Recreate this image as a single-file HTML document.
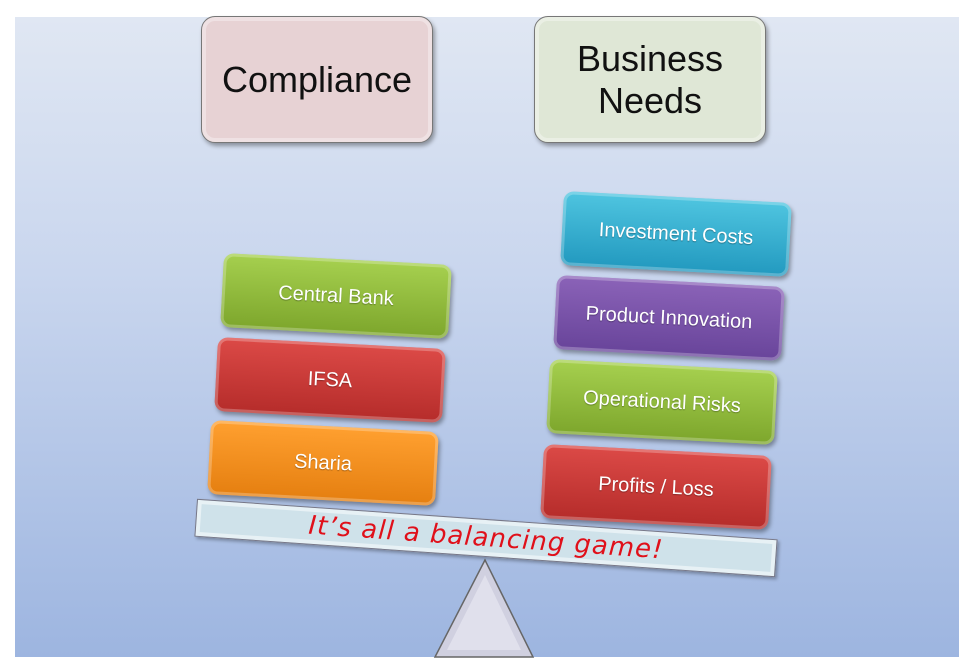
<!DOCTYPE html>
<html><head><style>
body{margin:0;width:973px;height:671px;background:#fff;position:relative;overflow:hidden;font-family:"Liberation Sans",sans-serif}
.bg{position:absolute;left:15px;top:17px;width:944px;height:640px;background:linear-gradient(#e0e7f3,#c9d6ee 40%,#9db5e0)}
.hb{position:absolute;border-radius:14px;border:1.5px solid #777;box-shadow:2px 3px 4px rgba(0,0,0,.35),inset 0 0 0 4px rgba(255,255,255,.35);display:flex;align-items:center;justify-content:center;text-align:center;font-size:36px;color:#111;line-height:42px}
.b{position:absolute;width:228px;height:74px;border-radius:10px;transform:rotate(3deg);color:#fff;font-size:20px;display:flex;align-items:center;justify-content:center;box-shadow:2px 3px 4px rgba(0,0,0,.35),inset 0 0 0 3px rgba(255,255,255,.25);text-shadow:0 1px 1px rgba(0,0,0,.3)}
</style></head><body>
<div class="bg"></div>
<div class="hb" style="left:201px;top:16px;width:230px;height:125px;background:#e7d2d4">Compliance</div>
<div class="hb" style="left:534px;top:16px;width:230px;height:125px;background:#dfe7d6">Business<br>Needs</div>

<div class="b" style="left:222px;top:259px;background:linear-gradient(#a6d04f,#7da62c)">Central Bank</div>
<div class="b" style="left:216px;top:343px;background:linear-gradient(#dc4a47,#b52c2a)">IFSA</div>
<div class="b" style="left:209px;top:426px;background:linear-gradient(#ffa030,#e57f10)">Sharia</div>

<div class="b" style="left:562px;top:197px;background:linear-gradient(#4fc5e0,#2299bf)">Investment Costs</div>
<div class="b" style="left:555px;top:281px;background:linear-gradient(#8b63b8,#68449a)">Product Innovation</div>
<div class="b" style="left:548px;top:365px;background:linear-gradient(#a6d04f,#7da62c)">Operational Risks</div>
<div class="b" style="left:542px;top:450px;background:linear-gradient(#dc4a47,#b52c2a)">Profits / Loss</div>

<svg style="position:absolute;left:0;top:0" width="973" height="671">
<polygon points="485,560 435,657 533,657" fill="#d0d0e0" stroke="#666" stroke-width="1.5"/>
<polygon points="485,575 447,650 521,650" fill="#e0e0ec"/>
</svg>
<div style="position:absolute;left:195px;top:519px;width:580px;height:36px;background:#cfe2ea;border:1.5px solid #778;transform:rotate(4deg);box-shadow:inset 0 0 0 4px rgba(255,255,255,.5),2px 2px 3px rgba(0,0,0,.3);display:flex;align-items:center;justify-content:center;color:#e0101a;font-size:26px;font-style:italic;font-family:'DejaVu Sans',sans-serif;letter-spacing:1px">It’s all a balancing game!</div>
</body></html>
